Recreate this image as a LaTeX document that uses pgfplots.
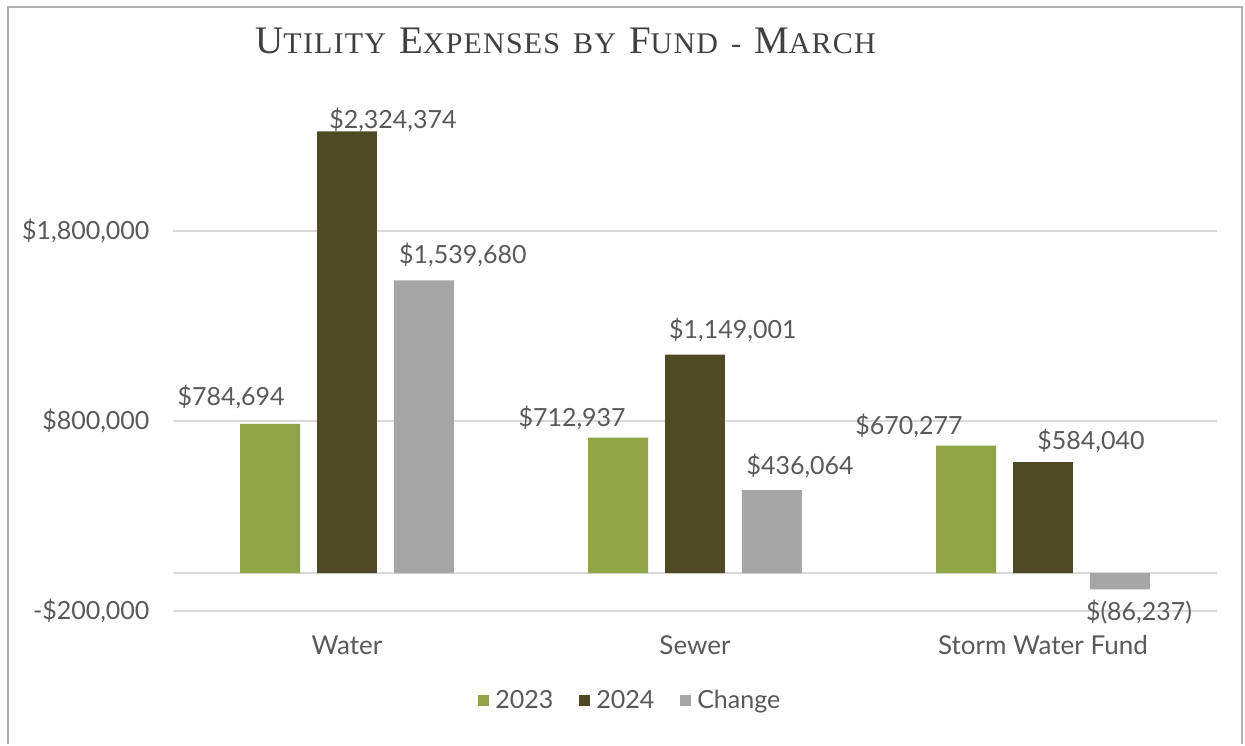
\documentclass[border=0pt]{standalone}
\usepackage{fontspec}
\setmainfont{Lato}
\newfontfamily\titlefont[LetterSpace=4]{Liberation Serif}
\usepackage{pgfplots}
\usepackage{pgfplotstable}
\pgfplotsset{compat=1.18}
\definecolor{cA}{HTML}{8FA444}
\definecolor{cB}{HTML}{4E4B24}
\definecolor{cC}{HTML}{A6A6A6}
\definecolor{txt}{HTML}{595959}
\definecolor{grd}{HTML}{D9D9D9}
\newcommand\SC[2]{{\fontsize{39}{42}\selectfont #1}{\fontsize{30}{32}\selectfont #2}}
\newcommand\SP{\hspace{13pt}}
\pgfplotstableread{
x y lab
-0.333 926316 784,694
0.132 2384211 2,324,374
0.333 1673684 1,539,680
0.647 815789 712,937
1.109 1278947 1,149,001
1.302 563158 436,064
1.615 773684 670,277
2.138 694737 584,040
2.276 -205263 (86,237)
}\labels
\begin{document}
\begin{tikzpicture}[x=1pt,y=1pt]
\begin{axis}[
  at={(173pt,123pt)}, anchor=south west,
  scale only axis, width=1044pt, height=532pt,
  ybar, xmin=-0.5, xmax=2.5, ymin=-200000, ymax=2600000,
  clip=false,
  axis line style={draw=none}, tick style={draw=none},
  xtick={0,1,2}, xticklabels={Water,Sewer,Storm Water Fund},
  ytick={-200000,800000,1800000},
  yticklabels={{-\$200,000},{\$800,000},{\$1,800,000}},
  extra y ticks={0}, extra y tick labels={},
  ymajorgrids, major grid style={grd, line width=2pt},
  extra y tick style={major grid style={grd, line width=2pt}},
  scaled y ticks=false,
  ticklabel style={font=\fontsize{25}{29}\selectfont, text=txt},
  xticklabel style={yshift=-17pt, font=\fontsize{26}{30}\selectfont},
  yticklabel style={xshift=-20pt},
  title={\titlefont\color[HTML]{404040}\SC{U}{TILITY}\SP\SC{E}{XPENSES}\SP{\fontsize{30}{32}\selectfont BY}\SP\SC{F}{UND}\SP{\fontsize{30}{32}\selectfont -}\SP\SC{M}{ARCH}},
  title style={at={(0.376,1.060)}, anchor=center},
  legend style={at={(0.438,-0.167)}, anchor=center, draw=none, legend columns=3,
    font=\fontsize{25}{29}\selectfont, text=txt,
    /tikz/every odd column/.append style={column sep=4pt},
    /tikz/every even column/.append style={column sep=24pt}},
  legend image code/.code={\fill[#1] (0pt,-6pt) rectangle (11pt,5pt);},
]
\addplot[fill=cA, draw=none, bar width=0.172, bar shift=-0.221] coordinates {(0,784694) (1,712937) (2,670277)};
\addplot[fill=cB, draw=none, bar width=0.172, bar shift=0] coordinates {(0,2324374) (1,1149001) (2,584040)};
\addplot[fill=cC, draw=none, bar width=0.172, bar shift=0.221] coordinates {(0,1539680) (1,436064) (2,-86237)};
\legend{2023,2024,Change}
\addplot[draw=none, mark=none, forget plot, nodes near coords={\$\pgfplotspointmeta},
  point meta=explicit symbolic,
  every node near coord/.style={anchor=center, font=\fontsize{25}{29}\selectfont, text=txt}]
  table[x=x, y=y, meta=lab] {\labels};
\end{axis}
\draw[gray!60, line width=2pt] (8pt,-10pt) -- (8pt,727pt) -- (1242pt,727pt) -- (1242pt,-10pt);
\path[use as bounding box] (0pt,0pt) rectangle (1245pt,734pt);
\end{tikzpicture}
\end{document}
